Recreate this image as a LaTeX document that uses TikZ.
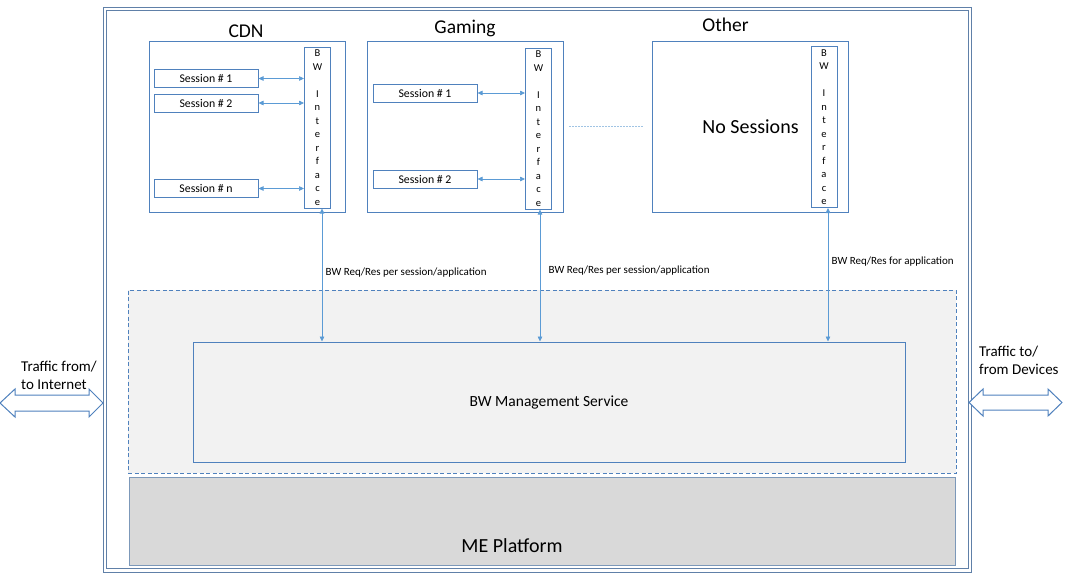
\documentclass[tikz,border=0pt]{standalone}
\usepackage{fontspec}
\setmainfont{Carlito}
\usepackage{xcolor}
\usepackage{tikz}
\usetikzlibrary{arrows.meta, calc}
\definecolor{boxblue}{RGB}{79,129,189}
\definecolor{framegray}{RGB}{96,128,168}
\definecolor{linkblue}{RGB}{91,155,213}
\definecolor{dotblue}{RGB}{160,196,228}
\definecolor{platformedge}{RGB}{124,152,185}
\definecolor{regiongray}{RGB}{242,242,242}
\definecolor{platformgray}{RGB}{217,217,217}
\newcommand{\bwstack}{B\\W\\\strut\\I\\n\\t\\e\\r\\f\\a\\c\\e}

\begin{document}
\begin{tikzpicture}[
    x=1pt, y=-1pt,
    framepen/.style={draw=framegray, line width=1pt, inner sep=0pt},
    appbox/.style={draw=boxblue, line width=1pt, fill=white, minimum width=196pt, minimum height=171pt, inner sep=0pt},
    apptitle/.style={anchor=base, font=\fontsize{19.5}{22}\selectfont},
    bwif/.style={draw=boxblue, line width=1pt, minimum width=26pt, minimum height=161pt, inner sep=0pt, align=center, font=\fontsize{10.5}{13.5}\selectfont},
    session/.style={draw=boxblue, line width=1pt, minimum width=104pt, minimum height=18pt, inner sep=0pt, font=\fontsize{11.8}{13}\selectfont},
    region/.style={draw=boxblue, line width=1pt, dash pattern=on 4pt off 2.5pt, fill=regiongray, minimum width=828pt, minimum height=183pt, inner sep=0pt},
    platform/.style={draw=platformedge, line width=1pt, fill=platformgray, minimum width=826pt, minimum height=88pt, inner sep=0pt},
    service/.style={draw=boxblue, line width=1pt, fill=regiongray, minimum width=712pt, minimum height=120pt, inner sep=0pt, font=\fontsize{15.5}{18}\selectfont},
    bwlink/.style={{Triangle[length=5pt,width=4.5pt]}-{Triangle[length=5pt,width=4.5pt]}, draw=linkblue, line width=0.7pt},
    linklabel/.style={right, font=\fontsize{11}{13}\selectfont},
    dotline/.style={draw=dotblue, line width=0.8pt, dash pattern=on 2pt off 1pt},
    trafficpen/.style={draw=boxblue, line width=1pt, fill=white, line join=miter},
    traffictext/.style={anchor=west, align=left, inner sep=0pt, font=\fontsize{15}{18}\selectfont}
]
    \useasboundingbox (0,0) rectangle (1068,587);

    % Frame and traffic
    \node[framepen, minimum width=868pt, minimum height=565pt] (mec) at (537,289.5) {};
    \node[framepen, minimum width=862pt, minimum height=558pt] (mecinner) at (537,289.5) {};
    \draw[trafficpen] (0,403) -- (15,389) -- (15,395) -- (89,395) -- (89,389) -- (103,403)
        -- (89,417) -- (89,411) -- (15,411) -- (15,417) -- cycle;
    \draw[trafficpen] (969,402.5) -- (983,389) -- (983,395) -- (1048,395) -- (1048,389) -- (1062,402.5)
        -- (1048,416) -- (1048,410) -- (983,410) -- (983,416) -- cycle;
    \node[traffictext] (inettext) at (21,375) {Traffic from/\\to Internet};
    \node[traffictext] (devtext) at (979,360.5) {Traffic to/\\from Devices};

    % Platform
    \node[region] (mgmtregion) at (542,381.5) {};
    \node[platform] (mep) at (542,521) {};
    \node[anchor=base, font=\fontsize{20}{24}\selectfont] (meptext) at (512,552) {ME Platform};
    \node[service] (bwms) at (549,402) {BW Management Service};

    % Applications
    \node[appbox] (cdn) at (247,126.5) {};
    \node[appbox] (gaming) at (465.5,126.5) {};
    \node[appbox, font=\fontsize{20}{24}\selectfont] (other) at (750.5,126.5) {No Sessions};
    \node[apptitle] (cdntitle) at (246,37.7) {CDN};
    \node[apptitle] (gamingtitle) at (465,33.3) {Gaming};
    \node[apptitle] (othertitle) at (725.5,31.7) {Other};

    \node[bwif] (cdnbw) at (317.5,127.5) {\bwstack};
    \node[bwif] (gamingbw) at (538.5,128.5) {\bwstack};
    \node[bwif] (otherbw) at (824,127) {\bwstack};

    % Sessions
    \node[session] (cdns1) at (206,78.5) {Session \# 1};
    \node[session] (cdns2) at (206,103) {Session \# 2};
    \node[session] (cdnsn) at (206,188.5) {Session \# n};
    \node[session] (gams1) at (425,93) {Session \# 1};
    \node[session] (gams2) at (425,179) {Session \# 2};

    % Links
    \draw[bwlink] (cdns1.east) -- (cdns1.east -| cdnbw.west);
    \draw[bwlink] (cdns2.east) -- (cdns2.east -| cdnbw.west);
    \draw[bwlink] (cdnsn.east) -- (cdnsn.east -| cdnbw.west);
    \draw[bwlink] (gams1.east) -- (gams1.east -| gamingbw.west);
    \draw[bwlink] (gams2.east) -- (gams2.east -| gamingbw.west);
    \draw[dotline] ([xshift=5pt]gaming.east) -- ([xshift=-9pt]other.west);

    \draw[bwlink] ([xshift=4.5pt]cdnbw.south) -- node[linklabel, pos=0.485] {BW Req/Res per session/application} ([xshift=4.5pt]cdnbw.south |- bwms.north);
    \draw[bwlink] ([xshift=1.5pt]gamingbw.south) -- node[linklabel, pos=0.46, xshift=5pt] {BW Req/Res per session/application} ([xshift=1.5pt]gamingbw.south |- bwms.north);
    \draw[bwlink] ([xshift=4pt]otherbw.south) -- node[linklabel, pos=0.40] {BW Req/Res for application} ([xshift=4pt]otherbw.south |- bwms.north);
\end{tikzpicture}
\end{document}
